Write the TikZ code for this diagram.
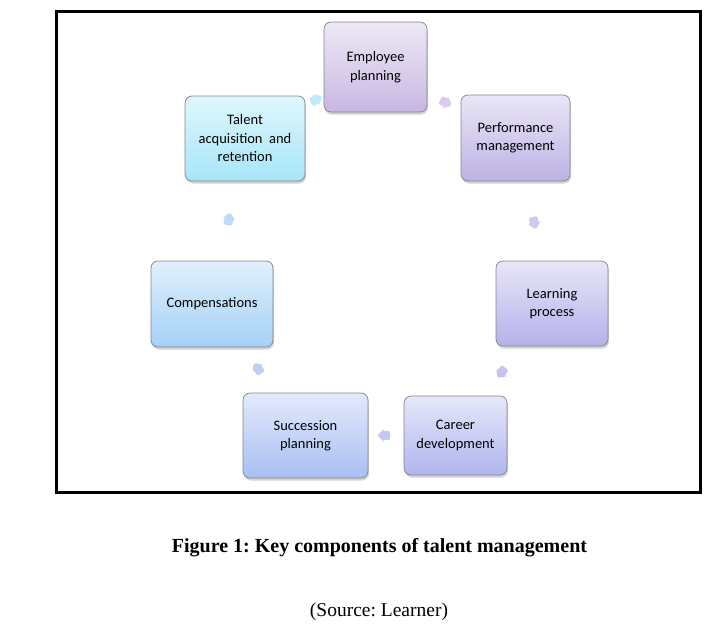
\documentclass[tikz,border=0pt]{standalone}
\usepackage{fontspec}
\setmainfont{Liberation Serif}
\newfontfamily\boxfont{Carlito}
\frenchspacing
\usetikzlibrary{calc,shadings,shadows,shapes.arrows}
\definecolor{empTop}{HTML}{EEE8F6}\definecolor{empBot}{HTML}{C8B7E2}
\definecolor{perTop}{HTML}{EAE6F6}\definecolor{perBot}{HTML}{BDB2E4}
\definecolor{leaTop}{HTML}{E8E6F8}\definecolor{leaBot}{HTML}{B5B1EA}
\definecolor{carTop}{HTML}{E6E8F9}\definecolor{carBot}{HTML}{B0B5EE}
\definecolor{sucTop}{HTML}{E2EAFB}\definecolor{sucBot}{HTML}{A9BFF3}
\definecolor{comTop}{HTML}{DFF0FD}\definecolor{comBot}{HTML}{A5D0F6}
\definecolor{talTop}{HTML}{DFF7FD}\definecolor{talBot}{HTML}{A7E5F8}
\definecolor{rim}{HTML}{858585}
\tikzset{
  topic/.style={draw=rim, line width=0.7pt, rounded corners=7pt, align=center,
    font=\boxfont\fontsize{14.5}{18.5}\selectfont, inner sep=2pt,
    drop shadow={shadow xshift=1pt, shadow yshift=-2.5pt, opacity=0.35}},
  link/.style={single arrow, draw=none, minimum height=12pt, minimum width=12pt,
    single arrow head extend=1.5pt, inner sep=4pt, rounded corners=2pt,
    sloped, allow upside down}
}
\begin{document}
\begin{tikzpicture}[x=1pt,y=-1pt]
		\useasboundingbox (0,0) rectangle (727,632);
		% frame
		\draw[line width=3pt] (56,11) rectangle (700,492);
		% topics
		\node[topic, top color=empTop, bottom color=empBot, minimum width=103pt, minimum height=90pt] (emp) at (375.5,67) {Employee\\planning};
		\node[topic, top color=perTop, bottom color=perBot, minimum width=109pt, minimum height=86pt] (perf) at (515.5,138) {Performance\\management};
		\node[topic, top color=leaTop, bottom color=leaBot, minimum width=112pt, minimum height=85pt] (learn) at (552,303.5) {Learning\\process};
		\node[topic, top color=carTop, bottom color=carBot, minimum width=103pt, minimum height=79pt] (career) at (455.5,435.5) {Career\\development};
		\node[topic, top color=sucTop, bottom color=sucBot, minimum width=125pt, minimum height=85pt] (succ) at (305.5,435.5) {Succession\\planning};
		\node[topic, top color=comTop, bottom color=comBot, minimum width=122pt, minimum height=86pt] (comp) at (212,304) {Compensations};
		\node[topic, top color=talTop, bottom color=talBot, minimum width=120pt, minimum height=85pt] (talent) at (245,138.5) {Talent\\acquisition~~and\\retention};
		% links
		\path (emp) -- node[link, fill=empBot!70] {} (perf);
		\path (perf) -- node[link, fill=perBot!70] {} (learn);
		\path (learn) -- node[link, fill=leaBot!75] {} (career);
		\path (career) -- node[link, fill=carBot!75] {} (succ);
		\path (succ) -- node[link, fill=sucBot!75] {} (comp);
		\path (comp) -- node[link, fill=comBot!75] {} (talent);
		\path (talent) -- node[link, fill=talBot!75] {} (emp);
		% caption
		\node[font=\bfseries\fontsize{20}{24}\selectfont] (title) at (379.5,548) {Figure 1: Key components of talent management};
		\node[font=\fontsize{19.5}{24}\selectfont] (source) at (379,612) {(Source: Learner)};
\end{tikzpicture}
\end{document}
